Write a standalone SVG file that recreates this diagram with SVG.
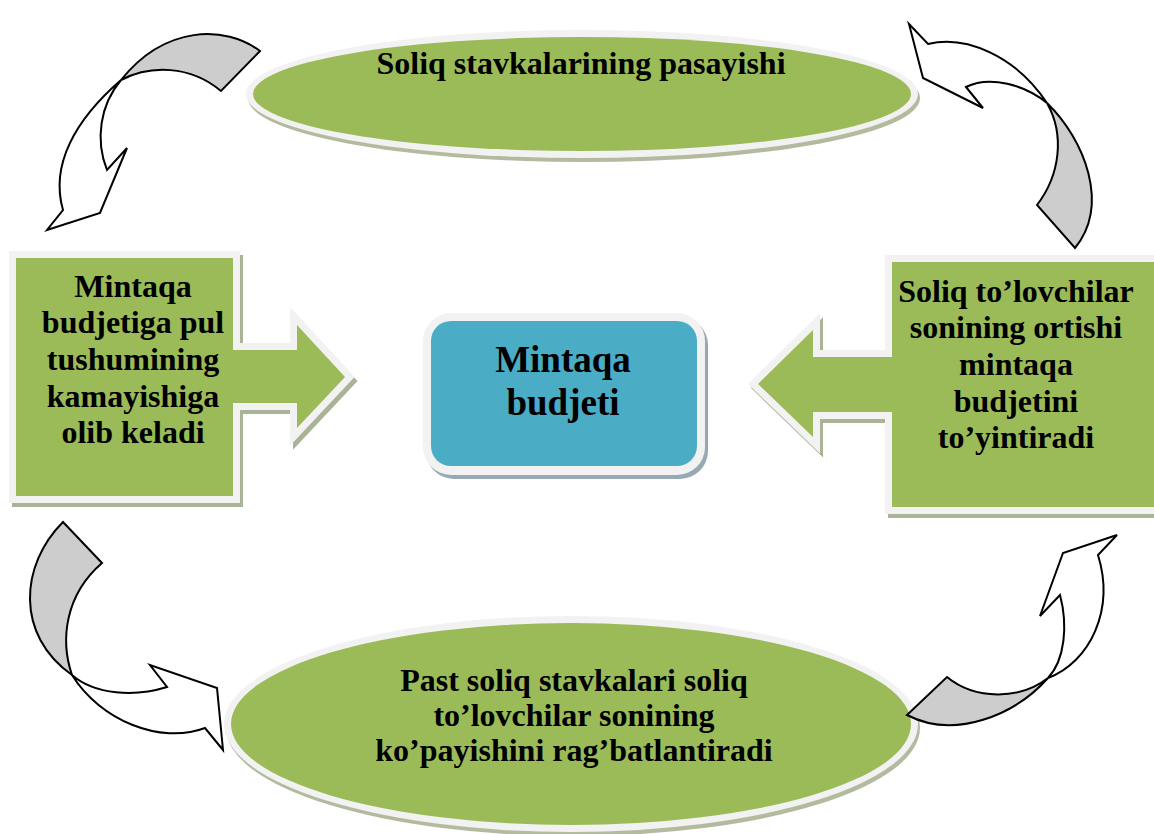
<svg xmlns="http://www.w3.org/2000/svg" width="1154" height="834" viewBox="0 0 1154 834">
  <style>
    .rim{fill:#f2f2f2}
    .gshadow{fill:#a9b395;stroke:#a9b395;stroke-width:14;stroke-linejoin:miter}
    .gbody{fill:#9bbb59;stroke:#f2f2f2;stroke-width:14;stroke-linejoin:miter;paint-order:stroke}
    .green{fill:#9bbb59}
    .eshadow{fill:#b3bb9f}
    .bshadow{fill:#97aab4}
    .blue{fill:#4bacc6}
    text{font-family:"Liberation Serif","Times New Roman",serif;font-weight:bold;fill:#000;text-anchor:middle}
    .t32{font-size:32px}
    .t37{font-size:37px}
    .cw{fill:#ffffff;stroke:#000;stroke-width:2;stroke-linejoin:miter}
    .cg{fill:#cdcdcd;stroke:#000;stroke-width:2;stroke-linejoin:miter}
  </style>

  <g id="node-top">
    <ellipse class="eshadow" cx="584" cy="98" rx="336" ry="64"/>
    <ellipse class="rim" cx="582" cy="94" rx="336" ry="64"/>
    <ellipse class="green" cx="582" cy="94" rx="329" ry="57"/>
    <text class="t32" x="581" y="74">Soliq stavkalarining pasayishi</text>
  </g>

  <g id="node-bottom">
    <ellipse class="eshadow" cx="573" cy="728" rx="347" ry="108"/>
    <ellipse class="rim" cx="571" cy="724" rx="347" ry="108"/>
    <ellipse class="green" cx="571" cy="724" rx="340" ry="101"/>
    <text class="t32" x="574" y="691">Past soliq stavkalari soliq</text>
    <text class="t32" x="574" y="726">to’lovchilar sonining</text>
    <text class="t32" x="574" y="761">ko’payishini rag’batlantiradi</text>
  </g>

  <g id="node-left">
    <path class="gshadow" transform="translate(3,4)" d="M16,258 H233 V350 H297 V325 L345,377 L297,428 V403 H233 V496 H16 Z"/>
    <path class="gbody" d="M16,258 H233 V350 H297 V325 L345,377 L297,428 V403 H233 V496 H16 Z"/>
    <text class="t32" x="133" y="297">Mintaqa</text>
    <text class="t32" x="133" y="333">budjetiga pul</text>
    <text class="t32" x="133" y="370">tushumining</text>
    <text class="t32" x="133" y="407">kamayishiga</text>
    <text class="t32" x="133" y="443">olib keladi</text>
  </g>

  <g id="node-right">
    <path class="gshadow" transform="translate(3,4)" d="M1170,262 H892 V357 H813 V330 L758,384 L813,437 V412 H892 V507 H1170 Z"/>
    <path class="gbody" d="M1170,262 H892 V357 H813 V330 L758,384 L813,437 V412 H892 V507 H1170 Z"/>
    <text class="t32" x="1016" y="302">Soliq to’lovchilar</text>
    <text class="t32" x="1016" y="338">sonining ortishi</text>
    <text class="t32" x="1016" y="375">mintaqa</text>
    <text class="t32" x="1016" y="412">budjetini</text>
    <text class="t32" x="1016" y="448">to’yintiradi</text>
  </g>

  <g id="node-center">
    <rect class="bshadow" x="426" y="317" width="282" height="162" rx="28"/>
    <rect class="rim" x="423" y="313" width="282" height="162" rx="28"/>
    <rect class="blue" x="431" y="321" width="266" height="145" rx="20"/>
    <text class="t37" x="563" y="372">Mintaqa</text>
    <text class="t37" x="563" y="415">budjeti</text>
  </g>

  <g id="connectors">
    <g id="arrow-top-left">
      <path class="cw" d="M121,80 C75,120 50,165 63,210 L47,230 L100,213 L127,148 L107,170 C95,140 100,105 121,80 Z"/>
      <path class="cg" d="M260,51 C225,25 165,25 121,80 C150,65 190,65 221,91 Z"/>
    </g>
    <g id="arrow-top-right">
      <path class="cw" d="M909,24 L928,44 C965,35 1015,55 1047,103 C1025,85 990,75 966,87 L983,108 L923,78 Z"/>
      <path class="cg" d="M1047,103 C1085,140 1110,205 1075,248 L1037,205 C1060,175 1065,135 1047,103 Z"/>
    </g>
    <g id="arrow-bottom-left">
      <path class="cw" d="M72,675 C100,720 160,745 205,728 L223,750 L217,688 L150,665 L167,687 C135,697 95,695 72,675 Z"/>
      <path class="cg" d="M63,522 C20,565 15,635 72,675 C60,640 65,595 102,563 Z"/>
    </g>
    <g id="arrow-bottom-right">
      <path class="cw" d="M1048,678 C1090,662 1115,610 1098,555 L1117,535 L1063,553 L1040,616 L1060,595 C1068,625 1065,660 1048,678 Z"/>
      <path class="cg" d="M1048,678 C1015,715 955,740 907,715 L947,677 C975,700 1020,700 1048,678 Z"/>
    </g>
  </g>
</svg>
